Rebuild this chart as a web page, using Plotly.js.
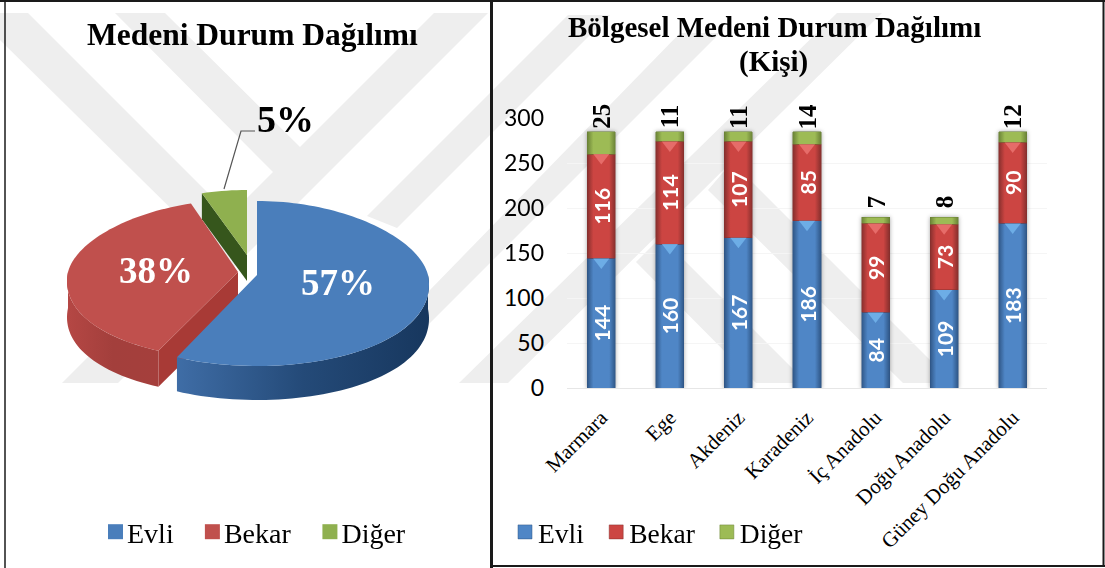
<!DOCTYPE html>
<html>
<head>
<meta charset="utf-8">
<script src="https://cdn.plot.ly/plotly-3.0.1.min.js"></script>
<style>
  html, body { margin: 0; padding: 0; background: #fff; }
  #chart { width: 1105px; height: 568px; }
  .barlayer { filter: drop-shadow(0 0 2px rgba(0, 0, 0, 0.35)); }
</style>
</head>
<body>
<div id="chart"></div>
<script>
var SERIES_NAMES = ["Evli", "Bekar", "Diğer"];
var PIE_SHARES = [57, 38, 5];

var REGIONS = ["Marmara", "Ege", "Akdeniz", "Karadeniz", "İç Anadolu", "Doğu Anadolu", "Güney Doğu Anadolu"];
var EVLI = [144, 160, 167, 186, 84, 109, 183];
var BEKAR = [116, 114, 107, 85, 99, 73, 90];
var DIGER = [25, 11, 11, 14, 7, 8, 12];

var Y_TICKS = [0, 50, 100, 150, 200, 250, 300];

var W = 1105, H = 568;
var SERIF = "Liberation Serif, Times New Roman, serif";
var SANS = "Lato, Open Sans, sans-serif";

// the pie is exploded in 3d in the original, so each slice gets its own ellipse.
// far/near are the half heights behind and in front of the centre, skew widens the near side
var PIE_SHAPE = [
  { cx: 257, cy: 275, rx: 171, far: 74, near: 91, skew: 0.11, depth: 34, top: "#4a7ebb", wall: ["#3f6da6", "#244a78", "#17375e"], face: "#2f5a90" },
  { cx: 238, cy: 272, rx: 170, far: 72, near: 87, skew: 0.11, depth: 36, top: "#c0504d", wall: ["#b54744", "#a33f3c", "#a53f3c"], face: "#a83a36" },
  { cx: 247, cy: 255, rx: 146, far: 65, near: 65, skew: 0, depth: 26, top: "#8fb04f", wall: ["#5f7a30", "#5f7a30", "#5f7a30"], face: "#36561c" }
];

var BAR_COLORS = [
  { mid: "#4f86c6", edge: "#2f5686", cap: "#74b6ee" },
  { mid: "#cc4542", edge: "#862f2d", cap: "#ec7673" },
  { mid: "#9dbb55", edge: "#6a8236", cap: "#bcd97a" }
];

var px = function(x) { return x / W; };
var py = function(y) { return 1 - y / H; };

var polyPath = function(points) {
  return "M" + points.map(function(p) { return p[0] + "," + p[1]; }).join("L") + "Z";
};

// watermark behind both charts, in page pixels
var WATERMARK = [
  [[0, 13], [28, 13], [230, 215], [205, 242], [0, 40]],
  [[115, 13], [165, 13], [300, 147], [434, 13], [488, 13], [118, 383], [62, 383], [273, 172]],
  [[490, 93], [568, 15], [610, 15], [490, 135], [397, 228], [367, 216]],
  [[680, 33], [720, 33], [428, 325], [428, 292]],
  [[837, 13], [882, 13], [508, 383], [459, 383]],
  [[636, 262], [661, 237], [807, 383], [756, 383]],
  [[708, 190], [732, 162], [953, 383], [903, 383]]
];

var arc = function(s, from, to, drop) {
  var xs = [], ys = [];
  var steps = Math.max(2, Math.ceil(Math.abs(to - from) / 2));
  for (var i = 0; i <= steps; i++) {
    var a = (from + (to - from) * i / steps) * Math.PI / 180;
    var c = Math.cos(a);
    xs.push(s.cx + s.rx * Math.sin(a) * (1 - s.skew * c));
    ys.push(s.cy - (c > 0 ? s.far : s.near) * c + (drop || 0));
  }
  return { x: xs, y: ys };
};

var fillTrace = function(x, y, fill) {
  var trace = {
    type: "scatter", mode: "none", x: x, y: y, fill: "toself",
    hoverinfo: "skip", showlegend: false, xaxis: "x", yaxis: "y"
  };
  if (typeof fill === "string") {
    trace.fillcolor = fill;
  } else {
    trace.fillgradient = {
      type: "horizontal",
      colorscale: [[0, fill[0]], [0.5, fill[1]], [1, fill[2]]]
    };
  }
  return trace;
};

var pieTraces = function() {
  var total = PIE_SHARES.reduce(function(a, b) { return a + b; }, 0);
  var start = 0;
  var angles = PIE_SHARES.map(function(v) {
    var range = [start, start + v / total * 360];
    start = range[1];
    return range;
  });

  var traces = [];
  // back to front: Diğer, Bekar, Evli
  [2, 1, 0].forEach(function(i) {
    var s = PIE_SHAPE[i], from = angles[i][0], to = angles[i][1];

    // cut face that shows towards the viewer
    if (i > 0) {
      var rim = arc(s, from, from);
      traces.push(fillTrace(
        [s.cx, rim.x[0], rim.x[0], s.cx],
        [s.cy, rim.y[0], rim.y[0] + s.depth, s.cy + s.depth],
        s.face
      ));
    }

    // outer wall, only the front half of the ellipse
    var wallFrom = Math.max(from, 90), wallTo = Math.min(to, 270);
    if (wallTo > wallFrom) {
      var upper = arc(s, wallFrom, wallTo);
      var lower = arc(s, wallTo, wallFrom, s.depth);
      traces.push(fillTrace(upper.x.concat(lower.x), upper.y.concat(lower.y), s.wall));
    }

    var rimArc = arc(s, from, to);
    traces.push(fillTrace([s.cx].concat(rimArc.x), [s.cy].concat(rimArc.y), s.top));
  });

  // legend keys only, the slices themselves stay out of the legend
  SERIES_NAMES.forEach(function(name, i) {
    traces.push({
      type: "scatter", mode: "markers", x: [null], y: [null], name: name,
      marker: { symbol: "square", size: 15, color: PIE_SHAPE[i].top },
      xaxis: "x", yaxis: "y", legend: "legend"
    });
  });
  return traces;
};

var cumulative = function(series) {
  var sum = REGIONS.map(function() { return 0; });
  return series.map(function(values) {
    sum = sum.map(function(v, i) { return v + values[i]; });
    return sum;
  });
};

var barTraces = function() {
  var series = [EVLI, BEKAR, DIGER];
  var traces = series.map(function(values, i) {
    return {
      type: "bar", x: REGIONS, y: values, name: SERIES_NAMES[i],
      xaxis: "x2", yaxis: "y2", legend: "legend2",
      marker: { color: BAR_COLORS[i].mid, line: { color: BAR_COLORS[i].edge, width: 0.5 } },
      text: i < 2 ? values.map(String) : null,
      textposition: i < 2 ? "inside" : "none",
      insidetextanchor: "middle",
      textangle: -90,
      constraintext: "none",
      textfont: { family: SANS, size: 21, color: "#fff", weight: 700 },
      hoverinfo: "x+y"
    };
  });

  // light cap at the top of each red and blue segment
  var tops = cumulative(series);
  [0, 1].forEach(function(i) {
    traces.push({
      type: "scatter", mode: "markers", x: REGIONS,
      y: tops[i].map(function(v) { return v - 4; }),
      marker: { symbol: "triangle-down", size: 14, color: BAR_COLORS[i].cap, opacity: 0.8 },
      xaxis: "x2", yaxis: "y2", showlegend: false, hoverinfo: "skip"
    });
  });
  return traces;
};

var pieLabels = function() {
  var spots = [[338, 282, "#fff"], [156, 270, "#fff"], [285, 119, "#000"]];
  var sizes = [37, 37, 38];
  return PIE_SHARES.map(function(v, i) {
    return {
      xref: "x", yref: "y", x: spots[i][0], y: spots[i][1], text: "<b>" + v + "%</b>",
      showarrow: false, font: { family: SERIF, size: sizes[i], color: spots[i][2] }
    };
  });
};

// centred a fixed distance above the bar, so the one digit labels float like in the original
var barTotals = function() {
  var tops = cumulative([EVLI, BEKAR, DIGER])[2];
  return DIGER.map(function(v, i) {
    return {
      xref: "x2", yref: "y2", x: REGIONS[i], y: tops[i], text: "<b>" + v + "</b>",
      textangle: -90, showarrow: false, yanchor: "middle", yshift: 15,
      font: { family: SERIF, size: 25, color: "#000" }
    };
  });
};

var titleNote = function(text, x, y, size) {
  return {
    xref: "paper", yref: "paper", x: px(x), y: py(y), xanchor: "center", yanchor: "middle",
    showarrow: false, text: "<b>" + text + "</b>", font: { family: SERIF, size: size, color: "#000" }
  };
};

var titles = [
  titleNote("Medeni Durum Dağılımı", 252, 35, 31.5),
  titleNote("Bölgesel Medeni Durum Dağılımı", 774, 27, 29),
  titleNote("(Kişi)", 773, 61, 29)
];

var frameLine = function(x0, y0, x1, y1, width) {
  return {
    type: "line", xref: "x", yref: "y", x0: x0, y0: y0, x1: x1, y1: y1,
    line: { color: "#1a1a1a", width: width }, layer: "above"
  };
};

var shapes = WATERMARK.map(function(points) {
  return {
    type: "path", xref: "x", yref: "y", path: polyPath(points),
    fillcolor: "#eeeeee", line: { width: 0 }, layer: "below"
  };
}).concat([
  frameLine(0, 1, 1105, 1, 2),
  frameLine(5, 0, 5, 568, 1.5),
  frameLine(491.5, 0, 491.5, 568, 3),
  frameLine(491, 566, 1105, 566, 2),
  frameLine(1103.5, 0, 1103.5, 567, 2),
  {
    type: "path", xref: "x", yref: "y", path: "M224,189L241,131L255,131",
    line: { color: "#555", width: 1.2 }, layer: "above"
  }
]);

var legendBase = function(x, size, itemwidth) {
  return {
    orientation: "h", x: px(x), xanchor: "left", y: py(532), yanchor: "middle",
    bgcolor: "rgba(0,0,0,0)", font: { family: SERIF, size: size, color: "#000" },
    itemwidth: itemwidth, itemclick: false, itemdoubleclick: false, traceorder: "normal"
  };
};

var layout = {
  width: W, height: H,
  margin: { l: 0, r: 0, t: 0, b: 0 },
  paper_bgcolor: "#fff",
  plot_bgcolor: "rgba(0,0,0,0)",
  barmode: "stack",
  bargap: 0.59,
  xaxis: { domain: [0, 1], range: [0, W], visible: false, fixedrange: true },
  yaxis: { domain: [0, 1], range: [H, 0], visible: false, fixedrange: true },
  xaxis2: {
    domain: [px(567), px(1047)], anchor: "y2", type: "category", categoryorder: "array", categoryarray: REGIONS,
    range: [-0.5, 6.5], tickangle: -45, ticks: "", ticklabelstandoff: 8,
    tickfont: { family: SERIF, size: 21, color: "#000" },
    showline: true, linecolor: "#e6e6e6", linewidth: 1, showgrid: false, fixedrange: true
  },
  yaxis2: {
    domain: [py(388), py(118)], anchor: "x2", range: [0, 300], tickvals: Y_TICKS,
    ticks: "", ticklabelstandoff: 22,
    tickfont: { family: SANS, size: 23, color: "#000" },
    showline: false, gridcolor: "#f5f5f5", zeroline: false, fixedrange: true
  },
  legend: legendBase(82, 28, 35),
  legend2: legendBase(498, 27.5, 30),
  annotations: titles.concat(pieLabels(), barTotals()),
  shapes: shapes,
  showlegend: true
};

var svgNs = "http://www.w3.org/2000/svg";

// plotly has no bar gradient, so swap the fills for a horizontal gradient once drawn
var shadeBars = function(node) {
  var defs = node.querySelector(".main-svg defs");
  node.querySelectorAll(".barlayer .trace").forEach(function(group, i) {
    var colors = BAR_COLORS[i];
    var gradient = document.createElementNS(svgNs, "linearGradient");
    gradient.setAttribute("id", "bar-shade-" + i);
    [[0, colors.edge], [0.22, colors.mid], [0.78, colors.mid], [1, colors.edge]].forEach(function(stop) {
      var el = document.createElementNS(svgNs, "stop");
      el.setAttribute("offset", stop[0]);
      el.setAttribute("stop-color", stop[1]);
      gradient.appendChild(el);
    });
    defs.appendChild(gradient);
    group.querySelectorAll(".point path").forEach(function(path) {
      path.style.fill = "url(#bar-shade-" + i + ")";
    });
  });
};

// the keys sit right next to their text in the original, closer than itemwidth allows
var nudgeLegendKeys = function(node) {
  var move = function(selector, dx) {
    node.querySelectorAll(selector + " .legendsymbols").forEach(function(g) {
      g.setAttribute("transform", "translate(" + dx + ",0)");
    });
  };
  move(".legend", 11);
  move(".legend2", 7);
  node.querySelectorAll(".legend2 .legendpoints path").forEach(function(path) {
    path.setAttribute("d", "M7,7H-7V-7H7Z");
  });
};

var node = document.getElementById("chart");
Plotly.newPlot(node, pieTraces().concat(barTraces()), layout, { displayModeBar: false, staticPlot: true })
  .then(function() {
    shadeBars(node);
    nudgeLegendKeys(node);
  });
</script>
</body>
</html>
